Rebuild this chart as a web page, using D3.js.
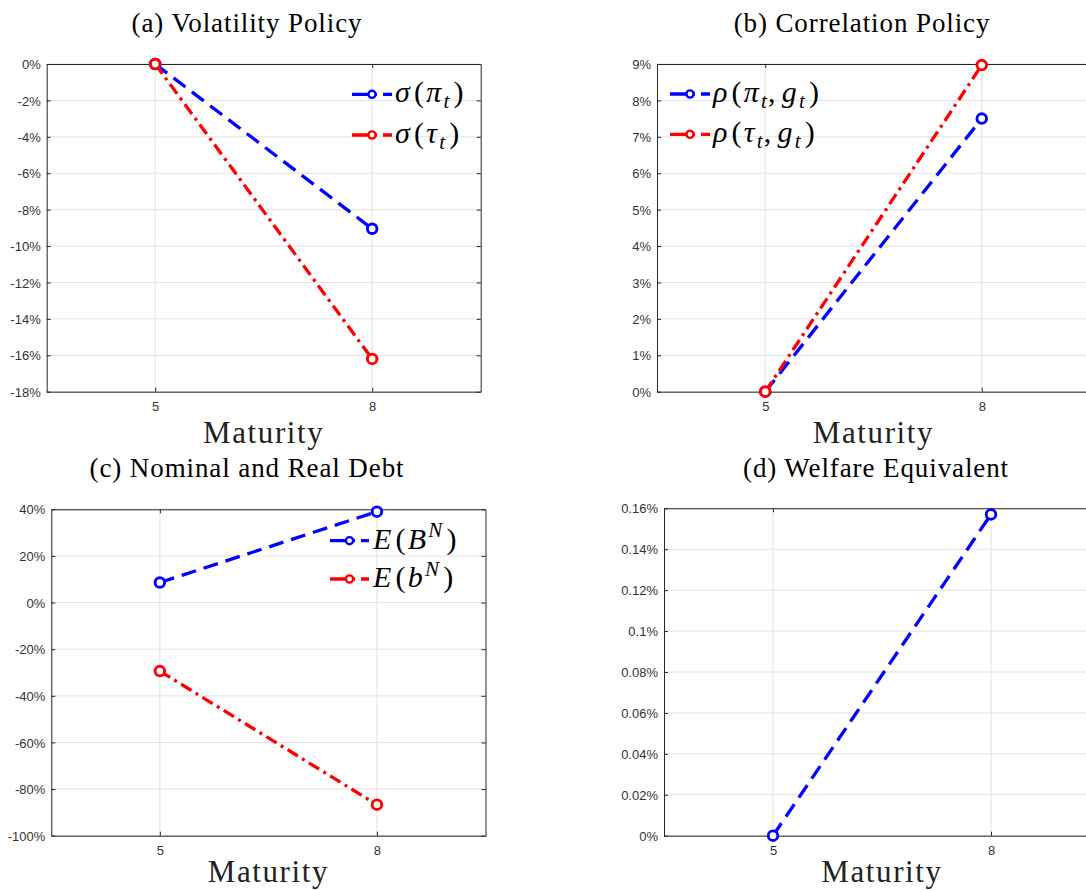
<!DOCTYPE html>
<html>
<head>
<meta charset="utf-8">
<script src="https://cdn.jsdelivr.net/npm/d3@7"></script>
<style>
  html, body { margin: 0; padding: 0; background: #ffffff; }
  svg { display: block; }
</style>
</head>
<body>
<script>
// ---------------- DATA ----------------
const maturities = [5, 8];
const xTicks = [5, 8];
const xDomain = [3.5, 9.5];

const volPi  = [0, -9.05];
const volTau = [0, -16.2];

const corrPi  = [0, 7.5];
const corrTau = [0, 8.97];

const debtNominal = [8.6, 39.0];
const debtReal    = [-29.4, -86.7];

const welfare = [0, 0.157];

const yTicksA = [0, -2, -4, -6, -8, -10, -12, -14, -16, -18];
const yTicksB = [0, 1, 2, 3, 4, 5, 6, 7, 8, 9];
const yTicksC = [40, 20, 0, -20, -40, -60, -80, -100];
const yTicksD = [0, 0.02, 0.04, 0.06, 0.08, 0.1, 0.12, 0.14, 0.16];
const yLabelsD = ["0%", "0.02%", "0.04%", "0.06%", "0.08%", "0.1%", "0.12%", "0.14%", "0.16%"];

const titles = ["(a) Volatility Policy", "(b) Correlation Policy", "(c) Nominal and Real Debt", "(d) Welfare Equivalent"];
const xLabel = "Maturity";

// legend labels as math segments (i = italic, s = sub/sup)
const legendA = [
  [{t:"σ",i:1},{t:"(",i:0},{t:"π",i:1},{t:"t",i:1,s:"sub"},{t:")",i:0}],
  [{t:"σ",i:1},{t:"(",i:0},{t:"τ",i:1},{t:"t",i:1,s:"sub"},{t:")",i:0}]
];
const legendB = [
  [{t:"ρ",i:1},{t:"(",i:0},{t:"π",i:1},{t:"t",i:1,s:"sub"},{t:",",i:0},{t:"g",i:1},{t:"t",i:1,s:"sub"},{t:")",i:0}],
  [{t:"ρ",i:1},{t:"(",i:0},{t:"τ",i:1},{t:"t",i:1,s:"sub"},{t:",",i:0},{t:"g",i:1},{t:"t",i:1,s:"sub"},{t:")",i:0}]
];
const legendC = [
  [{t:"E",i:1},{t:"(",i:0},{t:"B",i:1},{t:"N",i:1,s:"sup"},{t:")",i:0}],
  [{t:"E",i:1},{t:"(",i:0},{t:"b",i:1},{t:"N",i:1,s:"sup"},{t:")",i:0}]
];

// ---------------- STYLE ----------------
const BLUE = "#0000ff", RED = "#ff0000";
const DASH = "15,8";
const DASHDOT = "12,5,3,5";
const serif = "'Liberation Serif', 'DejaVu Serif', serif";
const sans = "'Liberation Sans', Arial, sans-serif";

const svg = d3.select("body").append("svg")
  .attr("width", 1086).attr("height", 890)
  .attr("viewBox", "0 0 1086 890");

const pct = v => v + "%";

const panels = [
  { l: 46.7, r: 480.7, t: 64, b: 391.7, yDomain: [-18, 0], yTicks: yTicksA, fmt: pct,
    series: [{v: volPi, c: BLUE, d: DASH}, {v: volTau, c: RED, d: DASHDOT}],
    legend: {labels: legendA, x0: 352, x1: 392, tx: 395, rows: [94.3, 135]},
    title: titles[0], titleX: 247, titleY: 32, labOff: 51 },
  { l: 657, r: 1090, t: 64, b: 391.7, yDomain: [0, 9], yTicks: yTicksB, fmt: pct,
    series: [{v: corrPi, c: BLUE, d: DASH}, {v: corrTau, c: RED, d: DASHDOT}],
    legend: {labels: legendB, x0: 670, x1: 710, tx: 713, rows: [94, 134.3]},
    title: titles[1], titleX: 862, titleY: 32, labOff: 51 },
  { l: 51.3, r: 485.5, t: 509.3, b: 835.7, yDomain: [-100, 40], yTicks: yTicksC, fmt: pct,
    series: [{v: debtNominal, c: BLUE, d: DASH}, {v: debtReal, c: RED, d: DASHDOT}],
    legend: {labels: legendC, x0: 330, x1: 369, tx: 373, rows: [540.7, 579]},
    title: titles[2], titleX: 247, titleY: 477, labOff: 46.5 },
  { l: 664, r: 1100, t: 508.3, b: 835.7, yDomain: [0, 0.16], yTicks: yTicksD,
    fmt: (d) => yLabelsD[yTicksD.indexOf(d)],
    series: [{v: welfare, c: BLUE, d: DASH}],
    legend: null,
    title: titles[3], titleX: 876, titleY: 477, labOff: 46.5 }
];

function styleAxis(sel, showText) {
  sel.select(".domain").attr("stroke", "#262626").attr("stroke-width", 1);
  sel.selectAll(".tick line").attr("stroke", "#262626").attr("stroke-width", 1);
  sel.selectAll(".tick text")
    .attr("fill", "#333333")
    .style("font-family", sans)
    .style("font-size", "13px");
  if (!showText) sel.selectAll(".tick text").remove();
}

function mathText(g, segs, x, y, fs) {
  const txt = g.append("text").attr("x", x).attr("y", y)
    .style("font-family", serif).style("font-size", fs + "px")
    .style("letter-spacing", "2.2px").attr("fill", "#000");
  let shift = 0;
  segs.forEach((s) => {
    const ts = txt.append("tspan").text(s.t);
    if (s.i) ts.style("font-style", "italic");
    let target = 0;
    let size = fs;
    if (s.s === "sub") { target = fs * 0.2; size = fs * 0.7; }
    if (s.s === "sup") { target = -fs * 0.38; size = fs * 0.7; }
    ts.style("font-size", size + "px");
    ts.attr("dy", target - shift);
    shift = target;
    if (s.t === "(" || s.t === ")") ts.attr("dx", 2);
    if (s.t === ",") ts.attr("dx", -1);
    if (s.t === "g") ts.attr("dx", 4);
  });
}

panels.forEach(p => {
  const x = d3.scaleLinear().domain(xDomain).range([p.l, p.r]);
  const y = d3.scaleLinear().domain(p.yDomain).range([p.b, p.t]);
  const g = svg.append("g");

  // grid
  g.append("g").selectAll("line").data(p.yTicks).join("line")
    .attr("x1", p.l).attr("x2", p.r)
    .attr("y1", d => y(d)).attr("y2", d => y(d))
    .attr("stroke", "#e3e3e3").attr("stroke-width", 1);
  g.append("g").selectAll("line").data(xTicks).join("line")
    .attr("x1", d => x(d)).attr("x2", d => x(d))
    .attr("y1", p.t).attr("y2", p.b)
    .attr("stroke", "#e3e3e3").attr("stroke-width", 1);

  // axes (box with inward ticks)
  const left = g.append("g").attr("transform", `translate(${p.l},0)`)
    .call(d3.axisLeft(y).tickValues(p.yTicks).tickFormat(p.fmt).tickSizeInner(-4).tickSizeOuter(0).tickPadding(6));
  styleAxis(left, true);
  left.selectAll(".tick text").attr("dy", "0.36em");
  const right = g.append("g").attr("transform", `translate(${p.r},0)`)
    .call(d3.axisRight(y).tickValues(p.yTicks).tickSizeInner(-4).tickSizeOuter(0));
  styleAxis(right, false);
  const bottom = g.append("g").attr("transform", `translate(0,${p.b})`)
    .call(d3.axisBottom(x).tickValues(xTicks).tickFormat(d3.format("d")).tickSizeInner(-4).tickSizeOuter(0).tickPadding(10));
  styleAxis(bottom, true);
  const top = g.append("g").attr("transform", `translate(0,${p.t})`)
    .call(d3.axisTop(x).tickValues(xTicks).tickSizeInner(-4).tickSizeOuter(0));
  styleAxis(top, false);

  // series
  const line = d3.line().x((d, i) => x(maturities[i])).y(d => y(d));
  p.series.forEach(s => {
    g.append("path").datum(s.v).attr("d", line)
      .attr("fill", "none").attr("stroke", s.c).attr("stroke-width", 3.3)
      .attr("stroke-dasharray", s.d);
    g.append("g").selectAll("circle").data(s.v).join("circle")
      .attr("cx", (d, i) => x(maturities[i])).attr("cy", d => y(d))
      .attr("r", 4.8).attr("fill", "#fff").attr("stroke", s.c).attr("stroke-width", 2.9);
  });

  // legend
  if (p.legend) {
    const L = p.legend;
    p.series.forEach((s, k) => {
      const yy = L.rows[k];
      g.append("line").attr("x1", L.x0).attr("x2", L.x1).attr("y1", yy).attr("y2", yy)
        .attr("stroke", s.c).attr("stroke-width", 3.3).attr("stroke-dasharray", "25,6,9");
      g.append("circle").attr("cx", (L.x0 + L.x1) / 2).attr("cy", yy).attr("r", 3.6)
        .attr("fill", "#fff").attr("stroke", s.c).attr("stroke-width", 2.4);
      mathText(g, L.labels[k], L.tx, yy + 8, 30);
    });
  }

  // title
  svg.append("text").attr("x", p.titleX).attr("y", p.titleY)
    .attr("text-anchor", "middle")
    .style("font-family", serif).style("font-size", "27px").style("letter-spacing", "0.9px")
    .attr("fill", "#000").text(p.title);

  // x label
  svg.append("text").attr("x", (p.l + p.r) / 2).attr("y", p.b + p.labOff)
    .attr("text-anchor", "middle")
    .style("font-family", serif).style("font-size", "31px").style("letter-spacing", "1.6px")
    .attr("fill", "#222").text(xLabel);
});
</script>
</body>
</html>
